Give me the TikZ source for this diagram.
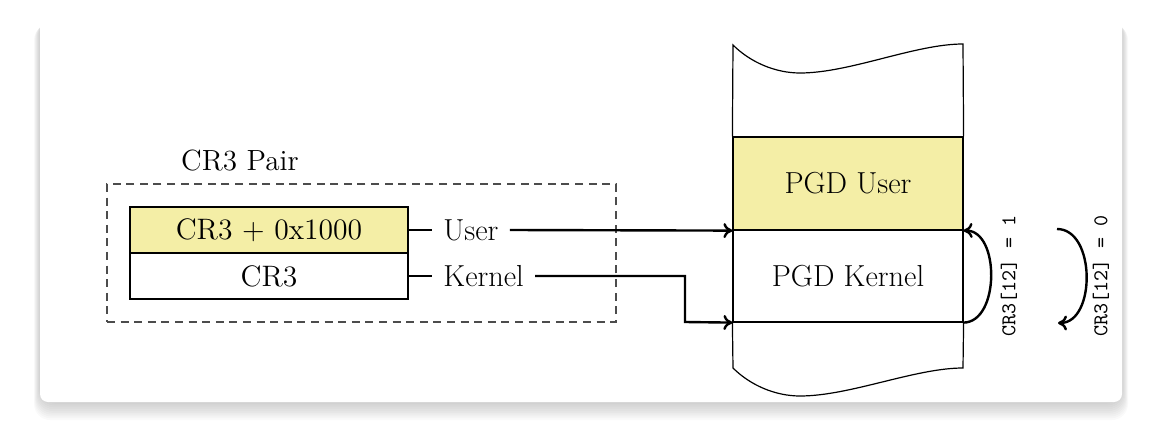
\documentclass[tikz,border=0pt]{standalone}
\usetikzlibrary{arrows.meta}
\definecolor{pgdyellow}{RGB}{244,238,166}
\begin{document}
\begin{tikzpicture}[x=0.5pt,y=-0.5pt,
  lbl/.style={font=\fontsize{14.6}{17}\selectfont, inner sep=0pt},
  cell/.style={draw, line width=0.6pt, minimum width=139pt, minimum height=23pt, inner sep=0pt, font=\fontsize{14.8}{17}\selectfont},
  pgd/.style={draw, line width=0.6pt, minimum width=115pt, inner sep=0pt, font=\fontsize{15.2}{17}\selectfont},
  tag/.style={font=\fontsize{15.2}{17}\selectfont, inner xsep=5.5pt, inner ysep=0pt},
  arr/.style={line width=1.2pt, -{To[length=4.5pt,width=7.5pt]}},
  thin line/.style={line width=0.6pt},
  bitlbl/.style={font=\ttfamily\fontsize{10.5}{12}\selectfont, rotate=90, inner sep=0pt}]
\useasboundingbox (0,0) rectangle (1174,423);
% card shadow
\foreach \i in {1,...,10} {
  \fill[black, opacity=0.02, rounded corners=8pt] (40-\i*0.6,18+\i*0.6) rectangle (1122+\i*0.6,402+\i*1.8);
}
\fill[white, rounded corners=4pt] (40,18) rectangle (1122,402);

% CR3 pair
\node[draw=black!70, dashed, dash pattern=on 4pt off 2.8pt, line width=0.6pt, minimum width=254.5pt, minimum height=69pt, inner sep=0pt] (pair) at (361.5,253) {};
\node[lbl] (pairlbl) at (240,161) {CR3 Pair};
\node[cell, fill=pgdyellow] (cru) at (269,230) {CR3~+~0x1000};
\node[cell] (crk) at (269,276) {CR3};
\node[tag, anchor=west] (user) at (432,230) {User};
\node[tag, anchor=west] (kernel) at (432,276) {Kernel};
\draw[thin line] (cru.east) -- (user.west);
\draw[thin line] (crk.east) -- (kernel.west);

% PGD column
\node[pgd, fill=pgdyellow, minimum height=46.5pt] (pgdu) at (848,183.5) {PGD User};
\node[pgd, minimum height=46pt] (pgdk) at (848,276) {PGD Kernel};
\draw[thin line] (pgdu.north west) -- (733,45)
  .. controls (750,62) and (775,73) .. (800,73)
  .. controls (850,73) and (915,44) .. (963,44) -- (pgdu.north east);
\draw[thin line] (pgdk.south west) -- (733,368)
  .. controls (750,385) and (775,396) .. (800,396)
  .. controls (850,396) and (915,368) .. (963,368) -- (pgdk.south east);

% connectors
\coordinate (kbend) at (685,322);
\draw[arr] (user.east) -- (pgdu.south west);
\draw[arr] (kernel.east) -| (kbend) -- (pgdk.south west);

% CR3[12] switches
\draw[arr] (pgdk.south east) .. controls (1000,322) and (1000,230) .. (pgdu.south east);
\coordinate (s0a) at (1057,229);
\coordinate (s0b) at (1058,323);
\draw[arr] (s0a) .. controls (1096,229) and (1096,323) .. (s0b);
\node[bitlbl] (lbl1) at (1009,276) {CR3[12] = 1};
\node[bitlbl] (lbl0) at (1101,276) {CR3[12] = 0};
\end{tikzpicture}
\end{document}
